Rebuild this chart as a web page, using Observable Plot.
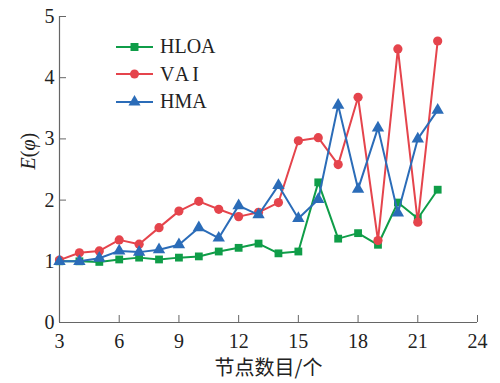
<!DOCTYPE html>
<html>
<head>
<meta charset="utf-8">
<script src="https://cdn.jsdelivr.net/npm/d3@7"></script>
<script src="https://cdn.jsdelivr.net/npm/@observablehq/plot@0.6"></script>
<style>
  html, body { margin: 0; padding: 0; background: #fff; }
  #wrap { position: relative; width: 500px; height: 383px; }
  #legend { position: absolute; left: 114px; top: 33px; font-family: "Liberation Serif", serif; font-size: 20px; color: #222; }
  #legend .row { display: flex; align-items: center; height: 27.5px; }
  #legend svg { margin-right: 6px; }
</style>
</head>
<body>
<div id="wrap"></div>
<script>
const nodes = [3,4,5,6,7,8,9,10,11,12,13,14,15,16,17,18,19,20,21,22];
const hloa = [1.00,1.00,0.99,1.03,1.06,1.03,1.06,1.08,1.16,1.22,1.29,1.13,1.16,2.29,1.37,1.46,1.27,1.96,1.70,2.17];
const vai  = [1.02,1.14,1.17,1.35,1.28,1.55,1.82,1.98,1.85,1.73,1.80,1.96,2.97,3.02,2.58,3.68,1.34,4.47,1.64,4.60];
const hma  = [1.00,1.00,1.05,1.17,1.15,1.19,1.27,1.55,1.38,1.91,1.76,2.24,1.70,2.01,3.55,2.18,3.18,1.79,3.00,3.47];
const xTicks = [3,6,9,12,15,18,21,24];
const yTicks = [0,1,2,3,4,5];
const seriesNames = ["HLOA","VAI","HMA"];
const seriesValues = [hloa, vai, hma];
const seriesColors = ["#0f9d48","#e5444c","#2b6cb8"];
const seriesSymbols = ["square","circle","triangle"];

const rows = seriesNames.map((name, i) => nodes.map((n, j) => ({series: name, n, v: seriesValues[i][j]})));

const marks = [];
rows.forEach((data, i) => {
  marks.push(Plot.line(data, {x: "n", y: "v", stroke: seriesColors[i], strokeWidth: 2}));
  marks.push(Plot.dot(data, {x: "n", y: "v", fill: seriesColors[i], symbol: () => seriesSymbols[i], r: seriesSymbols[i] === "circle" ? 4.6 : (seriesSymbols[i] === "square" ? 4.4 : 4.6), stroke: "none"}));
});

const chart = Plot.plot({
  width: 500,
  height: 383,
  marginLeft: 59,
  marginRight: 23,
  marginTop: 16,
  marginBottom: 61,
  style: {fontFamily: "'Liberation Serif', serif", fontSize: "20px", color: "#222", background: "#fff"},
  x: {domain: [3, 24]},
  y: {domain: [0, 5]},
  marks: [
    Plot.ruleY([0], {stroke: "#666", strokeWidth: 1.2}),
    Plot.ruleX([3], {stroke: "#666", strokeWidth: 1.2}),
    Plot.axisX({ticks: xTicks, tickSize: -7, tickPadding: 18, stroke: "#666", fill: "#222", label: null, tickFormat: d => String(d)}),
    Plot.axisY({ticks: yTicks, tickSize: -7, tickPadding: 12, stroke: "#666", fill: "#222", label: null, tickFormat: d => String(d)}),
    ...marks,
    Plot.text(["E(φ)"], {frameAnchor: "left", dx: -31, rotate: -90, fontSize: 20, fill: "#222", fontStyle: "italic", className: "ylab"}),
    Plot.text(["节点数目/个"], {frameAnchor: "bottom", lineAnchor: "middle", dy: 46, fontSize: 20, fill: "#222", fontFamily: "'Noto Sans CJK SC', sans-serif"})
  ]
});

// Mixed italic/upright y label
d3.select(chart).selectAll(".ylab text").each(function() {
  const t = d3.select(this);
  t.style("font-style", "normal").text(null);
  t.append("tspan").style("font-style", "italic").text("E");
  t.append("tspan").text("(");
  t.append("tspan").style("font-style", "italic").text("φ");
  t.append("tspan").text(")");
});

const wrap = document.getElementById("wrap");
wrap.appendChild(chart);

// Legend
const legend = document.createElement("div");
legend.id = "legend";
seriesNames.forEach((name, i) => {
  const row = document.createElement("div");
  row.className = "row";
  const sw = d3.create("svg").attr("width", 40).attr("height", 20);
  sw.append("line").attr("x1", 2).attr("x2", 39).attr("y1", 10).attr("y2", 10).attr("stroke", seriesColors[i]).attr("stroke-width", 2);
  sw.append("path").attr("transform", "translate(20.5,10)").attr("fill", seriesColors[i])
    .attr("d", d3.symbol(seriesSymbols[i] === "square" ? d3.symbolSquare : seriesSymbols[i] === "circle" ? d3.symbolCircle : d3.symbolTriangle, Math.PI * 4.5 * 4.5)());
  row.appendChild(sw.node());
  const label = document.createElement("span");
  label.textContent = name;
  label.style.letterSpacing = name === "VAI" ? "3px" : "0px";
  row.appendChild(label);
  legend.appendChild(row);
});
wrap.appendChild(legend);
</script>
</body>
</html>
